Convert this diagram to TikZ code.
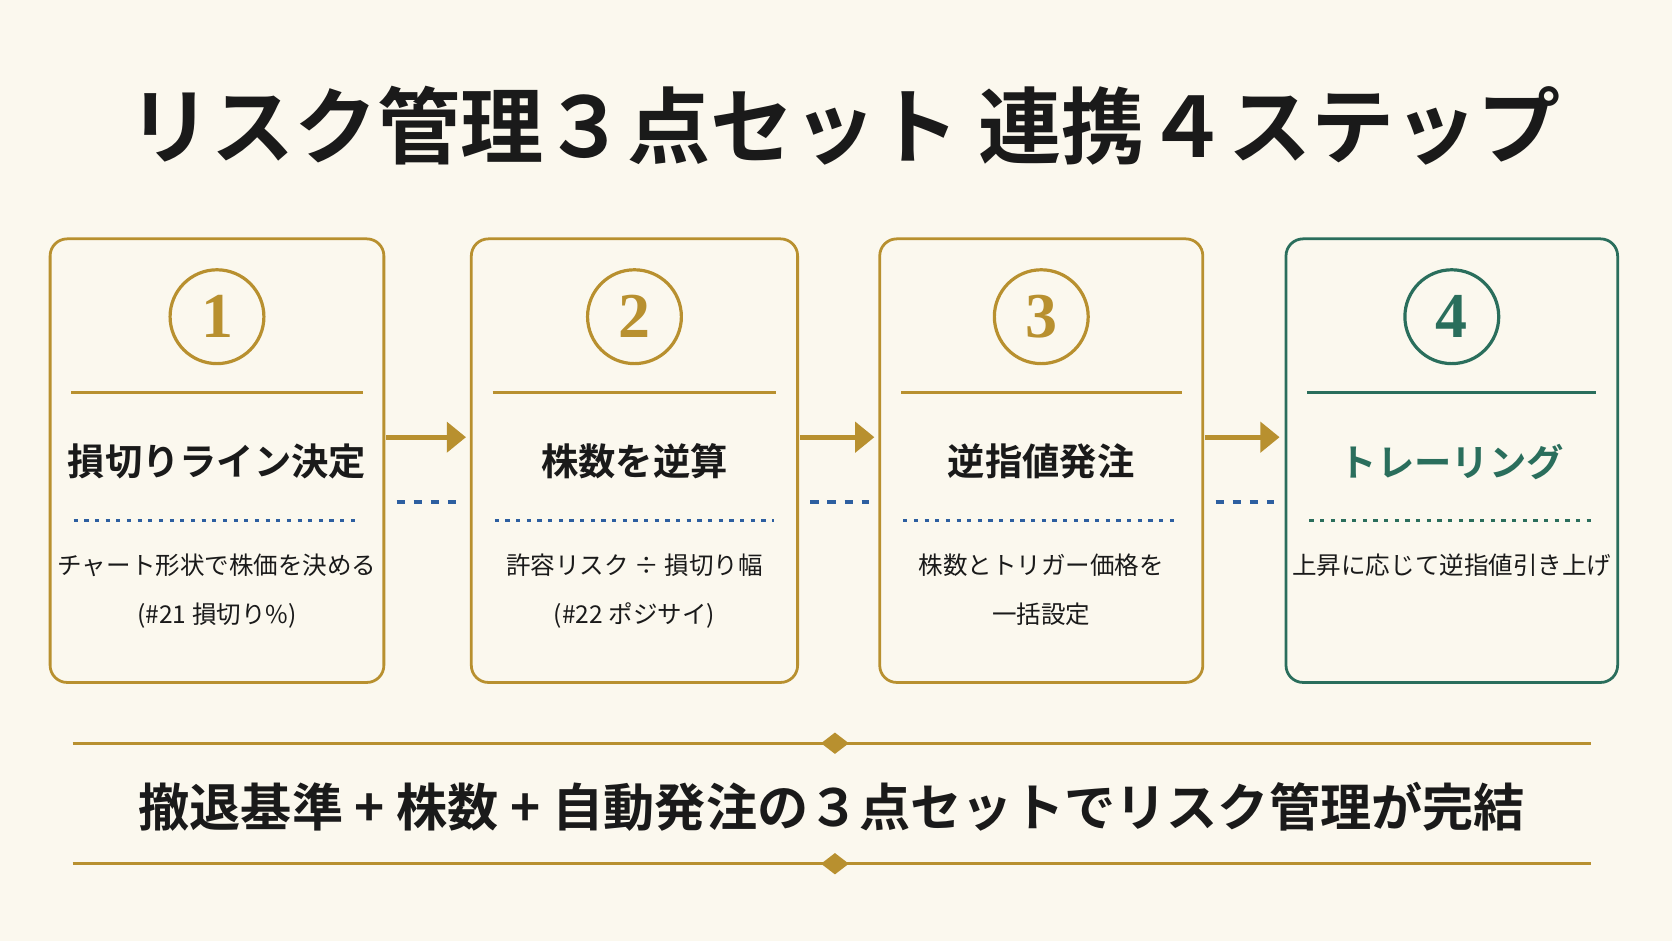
\documentclass[tikz,border=0pt]{standalone}
\usepackage{fontspec}
\setmainfont{Noto Sans CJK JP}[BoldFont={Noto Sans CJK JP Bold}]
\newfontfamily\jpb{Noto Sans CJK JP Bold}
\newfontfamily\numf{Liberation Serif}[BoldFont={Liberation Serif Bold}]
\usetikzlibrary{arrows.meta}
\definecolor{bg}{HTML}{FBF8EE}
\definecolor{gold}{HTML}{B8902F}
\definecolor{grn}{HTML}{2A6E5C}
\definecolor{blu}{HTML}{2D5FA0}
\definecolor{ink}{HTML}{1A1A1A}
\tikzset{
 card/.style={draw=#1,line width=1.3pt,rounded corners=8pt,fill=bg},
 numc/.style={circle,draw=#1,line width=1.5pt,minimum size=44pt,inner sep=0pt,text=#1,font=\numf\bfseries\fontsize{30}{30}\selectfont},
 head/.style={font=\jpb\fontsize{17.5}{22}\selectfont,text=#1},
 desc/.style={font=\fontsize{11.5}{23}\selectfont,text=ink,align=center},
 arr/.style={draw=gold,line width=2.5pt,-{Triangle[length=9pt,width=14pt]}},
 bdash/.style={draw=blu,line width=2pt,dash pattern=on 4pt off 4pt},
}
\begin{document}
\begin{tikzpicture}[x=0.5pt,y=-0.5pt]
\fill[bg] (0,0) rectangle (1568,882);
\useasboundingbox (0,0) rectangle (1568,882);
\node[font=\jpb\fontsize{39}{42}\selectfont,text=ink] (title) at (792,118) {リスク管理３点セット 連携４ステップ};
\foreach \i/\xa/\xb/\c/\dc/\hc/\h/\d in {
 1/47/360/gold/blu/ink/損切りライン決定/{チャート形状で株価を決める\\(\#21 損切り\%)},
 2/442/748/gold/blu/ink/株数を逆算/{許容リスク ÷ 損切り幅\\(\#22 ポジサイ)},
 3/825/1128/gold/blu/ink/逆指値発注/{株数とトリガー価格を\\一括設定},
 4/1206/1517/grn/grn/grn/トレーリング/{上昇に応じて逆指値引き上げ}}{
 \pgfmathsetmacro\xm{(\xa+\xb)/2}
 \draw[card=\c] (\xa,224) rectangle (\xb,640);
 \node[numc=\c] (n\i) at (\xm,297) {\i};
 \draw[draw=\c,line width=1.2pt] (\xa+20,368) -- (\xb-20,368);
 \node[head=\hc] (h\i) at (\xm,433) {\h};
 \draw[draw=\dc,line width=1.5pt,dash pattern=on 2pt off 3pt] (\xa+22,488) -- (\xb-22,488);
 \node[desc,anchor=north] (d\i) at (\xm,512) {\d};
}
\foreach \a/\x/\e in {1/362/437,2/750/820,3/1130/1200}{
 \coordinate (s\a) at (\x,410);
 \coordinate (e\a) at (\e,410);
 \draw[arr] (s\a) -- (e\a);
 \coordinate (p\a) at (\x+10,471);
 \coordinate (q\a) at (\e-5,471);
 \draw[bdash] (p\a) -- (q\a);
}
\foreach \y in {697,810}{
 \draw[gold,line width=1.2pt] (68,\y) -- (1492,\y);
 \fill[gold] (783,\y-10) -- (796,\y) -- (783,\y+10) -- (770,\y) -- cycle;
}
\node[font=\jpb\fontsize{24}{27}\selectfont,text=ink] (sum) at (780,757) {撤退基準 + 株数 + 自動発注の３点セットでリスク管理が完結};
\end{tikzpicture}
\end{document}
